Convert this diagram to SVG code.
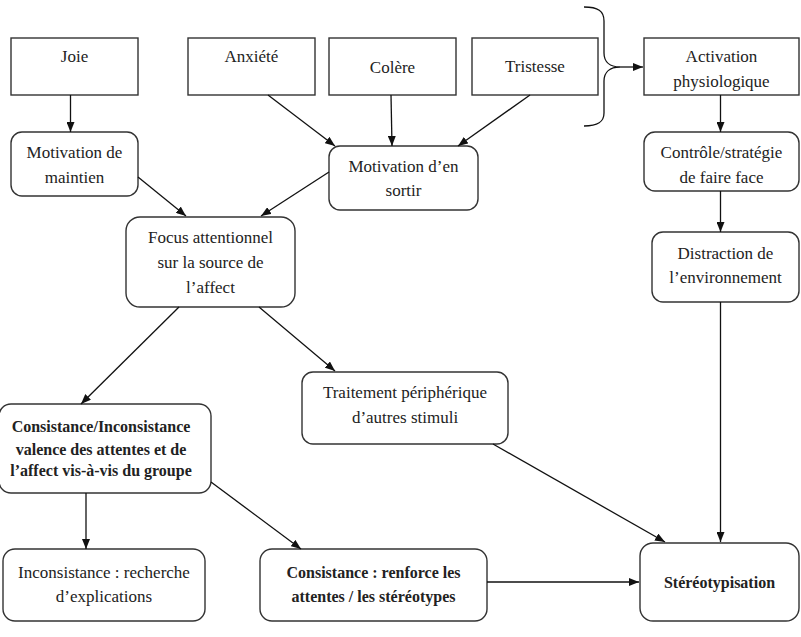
<svg xmlns="http://www.w3.org/2000/svg" width="801" height="637" viewBox="0 0 801 637">
<defs>
<marker id="ah" viewBox="0 0 10 8" refX="10" refY="4" markerWidth="10" markerHeight="8" markerUnits="userSpaceOnUse" orient="auto">
<path d="M0,0 L10,4 L0,8 Z" fill="#111"/>
</marker>
<style>
.box{fill:#fff;stroke:#333;stroke-width:1.4}
.t{font-family:"Liberation Serif","Times New Roman",serif;font-size:17px;fill:#222;text-anchor:middle}
.b{font-weight:bold;font-size:16px}
.c{fill:none;stroke:#111;stroke-width:1.3}
.a{marker-end:url(#ah)}
</style>
</defs>
<rect width="801" height="637" fill="#fff"/>

<g id="joie"><rect class="box" x="11" y="38" width="127" height="57"/><text class="t" x="74.5" y="62">Joie</text></g>
<g id="anxiete"><rect class="box" x="188" y="38" width="127" height="57"/><text class="t" x="251.5" y="62">Anxiété</text></g>
<g id="colere"><rect class="box" x="329" y="38" width="127" height="57"/><text class="t" x="392.5" y="73">Colère</text></g>
<g id="tristesse"><rect class="box" x="472" y="38" width="126" height="57"/><text class="t" x="535" y="72">Tristesse</text></g>
<g id="activation"><rect class="box" x="644" y="38" width="155" height="57"/><text class="t" x="721.5" y="62">Activation</text><text class="t" x="721.5" y="87">physiologique</text></g>

<g id="motivation-maintien"><rect class="box" x="11" y="132" width="127" height="64" rx="11"/><text class="t" x="74.5" y="158">Motivation de</text><text class="t" x="74.5" y="183">maintien</text></g>
<g id="motivation-sortir"><rect class="box" x="329" y="146" width="149" height="64" rx="11"/><text class="t" x="403.5" y="172">Motivation d’en</text><text class="t" x="403.5" y="196">sortir</text></g>
<g id="controle"><rect class="box" x="644" y="132" width="155" height="59" rx="11"/><text class="t" x="721.5" y="158">Contrôle/stratégie</text><text class="t" x="721.5" y="183">de faire face</text></g>
<g id="focus"><rect class="box" x="126" y="217" width="169" height="90" rx="14"/><text class="t" x="210.5" y="243">Focus attentionnel</text><text class="t" x="210.5" y="268">sur la source de</text><text class="t" x="210.5" y="293">l’affect</text></g>
<g id="distraction"><rect class="box" x="652" y="232" width="147" height="70" rx="11"/><text class="t" x="725.5" y="259">Distraction de</text><text class="t" x="725.5" y="283">l’environnement</text></g>
<g id="traitement"><rect class="box" x="302" y="372" width="206" height="72" rx="11"/><text class="t" x="405" y="398">Traitement périphérique</text><text class="t" x="405" y="423">d’autres stimuli</text></g>
<g id="consistance-inconsistance"><rect class="box" x="-1" y="404" width="212" height="89" rx="12"/><text class="t b" x="101" y="432">Consistance/Inconsistance</text><text class="t b" x="101" y="455">valence des attentes et de</text><text class="t b" x="101" y="476">l’affect vis-à-vis du groupe</text></g>
<g id="inconsistance"><rect class="box" x="3" y="549" width="202" height="72" rx="12"/><text class="t" x="104" y="578">Inconsistance : recherche</text><text class="t" x="104" y="602">d’explications</text></g>
<g id="consistance"><rect class="box" x="260" y="549" width="227" height="72" rx="12"/><text class="t b" x="373.5" y="578">Consistance : renforce les</text><text class="t b" x="373.5" y="602">attentes / les stéréotypes</text></g>
<g id="stereotypisation"><rect class="box" x="640" y="543" width="159" height="78" rx="13"/><text class="t b" x="719.5" y="588">Stéréotypisation</text></g>

<g id="connectors">
<path class="c" d="M584,7 C598,7 604,11 604,21 L604,53 C604,62 610,67 620,67 C610,67 604,72 604,81 L604,113 C604,122 598,126 584,126"/>
<line class="c a" x1="620" y1="67" x2="643" y2="67"/>
<line class="c a" x1="70.5" y1="95" x2="70.5" y2="132"/>
<line class="c a" x1="268" y1="95" x2="335" y2="146"/>
<line class="c a" x1="391" y1="95" x2="392" y2="146"/>
<line class="c a" x1="530" y1="95" x2="458" y2="146"/>
<line class="c a" x1="720.5" y1="95" x2="720.5" y2="132"/>
<line class="c a" x1="138" y1="177" x2="186" y2="216"/>
<line class="c a" x1="329" y1="172" x2="261" y2="216"/>
<line class="c a" x1="720.5" y1="191" x2="720.5" y2="232"/>
<line class="c a" x1="179" y1="307" x2="81" y2="404"/>
<line class="c a" x1="259" y1="307" x2="335" y2="371"/>
<line class="c a" x1="720.5" y1="302" x2="720.5" y2="542"/>
<line class="c a" x1="493" y1="444" x2="665" y2="542"/>
<line class="c a" x1="86" y1="493" x2="86" y2="549"/>
<line class="c a" x1="211" y1="482" x2="301" y2="549"/>
<line class="c a" x1="487" y1="582" x2="639" y2="582"/>
</g>
</svg>
